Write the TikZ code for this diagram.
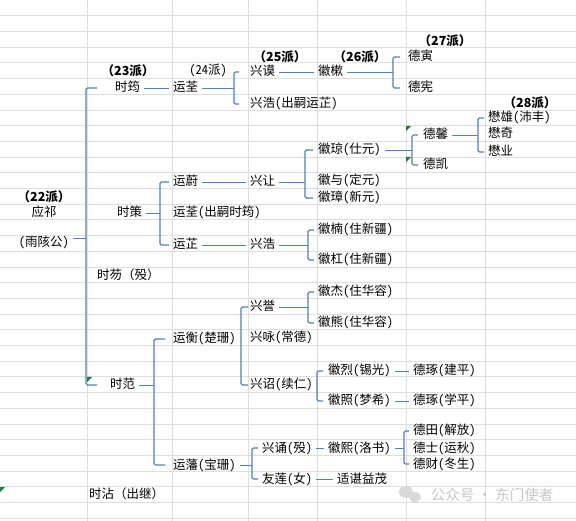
\documentclass[tikz,border=0pt]{standalone}
\usepackage{fontspec}
\setmainfont{Noto Sans CJK SC}
\newfontfamily\halfw{Noto Sans CJK SC}[RawFeature=+hwid]
\usetikzlibrary{positioning,calc}
\definecolor{linkblue}{HTML}{4F81BD}
\definecolor{cellgray}{HTML}{DCDEE0}
\definecolor{markgreen}{HTML}{1E7B3A}

\begin{document}
\begin{tikzpicture}[x=1pt,y=-1pt,
  nm/.style={font=\halfw\fontsize{12.5}{14}\selectfont,anchor=west,inner xsep=4pt,inner ysep=0pt,text height=10pt,text depth=2pt},
  nmfull/.style={nm,font=\fontsize{12.5}{14}\selectfont},
  gen/.style={font=\fontsize{12.5}{14}\selectfont\bfseries,inner sep=1pt},
  brk/.style={draw=linkblue,line width=1.3pt,rounded corners=1.5pt},
  lnk/.style={draw=linkblue,line width=0.8pt},
  cellline/.style={draw=cellgray,line width=0.6pt}
]
\useasboundingbox (0,0) rectangle (576,521);
\fill[white] (0,0) rectangle (576,521);
\foreach \r in {1,...,33} \draw[cellline] (0,{15.7*\r}) -- (576,{15.7*\r});
\foreach \c in {87,172,248,317,406,485} \draw[cellline] (\c,0) -- (\c,521);
\foreach \px/\py in {87/377,406/126,406/157,0/487}
  \fill[markgreen] (\px,\py) -- ++(5,0) -- ++(-5,5) -- cycle;

\node[gen] (h22) at (44,197) {（22派）};
\node[nm,anchor=center] (yingqi) at (44,213) {应祁};
\node[nm,anchor=center] (yugai) at (44,243) {(雨陔公)};

\node[gen] (h23) at (128,71) {（23派）};
\node[nm] (shiyun) at (111,88) {时筠};
\node[nm] (shice) at (113,213) {时策};
\node[nmfull] (shiwu) at (93,276) {时芴（殁）};
\node[nm] (shifan) at (106,385) {时范};
\node[nmfull] (shizhan) at (85,494) {时沾（出继）};

\node[nm,anchor=center] (h24) at (208,71) {(24派)};
\node[nm] (yunquan) at (169,88) {运荃};
\node[nm] (yunwei) at (169,182) {运蔚};
\node[nm] (yunquanb) at (169,213) {运荃(出嗣时筠)};
\node[nm] (yunzhi) at (169,245) {运芷};
\node[nm] (yunheng) at (169,339) {运衡(楚珊)};
\node[nm] (yunfan) at (169,465) {运藩(宝珊)};

\node[gen] (h25) at (280,57) {（25派）};
\node[nm] (xingmo) at (246,72) {兴谟};
\node[nm] (xinghao) at (246,104) {兴浩(出嗣运芷)};
\node[nm] (xingrang) at (246,182) {兴让};
\node[nm] (xinghaob) at (246,245) {兴浩};
\node[nm] (xingyu) at (246,307) {兴誉};
\node[nm] (xingyong) at (246,338) {兴咏(常德)};
\node[nm] (xingzhao) at (246,385) {兴诏(续仁)};
\node[nm] (xingsong) at (258,448) {兴诵(殁)};
\node[nm] (youlian) at (258,479) {友莲(女)};

\node[gen] (h26) at (360,57) {（26派）};
\node[nm] (huisu) at (314,72) {徽樕};
\node[nm] (huiqiong) at (314,150) {徽琼(仕元)};
\node[nm] (huiyu) at (314,181) {徽与(定元)};
\node[nm] (huizhang) at (314,198) {徽璋(新元)};
\node[nm] (huinan) at (314,230) {徽楠(住新疆)};
\node[nm] (huigang) at (314,260) {徽杠(住新疆)};
\node[nm] (huijie) at (314,292) {徽杰(住华容)};
\node[nm] (huixiong) at (314,323) {徽熊(住华容)};
\node[nm] (huilie) at (324,371) {徽烈(锡光)};
\node[nm] (huizhao) at (324,401) {徽照(梦希)};
\node[nm] (huixi) at (324,448) {徽熙(洛书)};
\node[nm] (shichen) at (333,479) {适谌益茂};

\node[gen] (h27) at (445,41) {（27派）};
\node[nm] (deyin) at (404,57) {德寅};
\node[nm] (dexian) at (404,88) {德宪};
\node[nm] (dexin) at (419,135) {德馨};
\node[nm] (dekai) at (419,165) {德凯};
\node[nm] (dezhuoa) at (409,371) {德琢(建平)};
\node[nm] (dezhuob) at (409,401) {德琢(学平)};
\node[nm] (detian) at (409,431) {德田(解放)};
\node[nm] (deshi) at (409,448) {德士(运秋)};
\node[nm] (decai) at (409,464) {德财(冬生)};

\node[gen] (h28) at (530,103) {（28派）};
\node[nm] (maoxiong) at (484,118) {懋雄(沛丰)};
\node[nm] (maoqi) at (484,134) {懋奇};
\node[nm] (maoye) at (484,152) {懋业};

\coordinate (s0) at (86,238);
\coordinate (s1) at (160,213);
\coordinate (s2) at (234,87);
\coordinate (s3) at (393,71);
\coordinate (s4) at (305,180);
\coordinate (s5) at (412,150);
\coordinate (s6) at (478,134);
\coordinate (s7) at (308,245);
\coordinate (s8) at (308,307);
\coordinate (s9) at (241,346);
\coordinate (s10) at (154,385);
\coordinate (s11) at (317,385);
\coordinate (s12) at (252,465);
\coordinate (s13) at (404,448);

\draw[brk] (s0 |- shiyun) ++(11,0) -- (s0 |- shiyun) -- (s0 |- shifan) -- ++(11,0);
\draw[brk] (s1 |- yunwei) ++(9,0) -- (s1 |- yunwei) -- (s1 |- yunzhi) -- ++(9,0);
\draw[brk] (s2 |- xingmo) ++(5,0) -- (s2 |- xingmo) -- (s2 |- xinghao) -- ++(5,0);
\draw[brk] (s3 |- deyin) ++(7,0) -- (s3 |- deyin) -- (s3 |- dexian) -- ++(7,0);
\draw[brk] (s4 |- huiqiong) ++(8,0) -- (s4 |- huiqiong) -- (s4 |- huizhang) -- ++(8,0);
\draw[brk] (s5 |- dexin) ++(6,0) -- (s5 |- dexin) -- (s5 |- dekai) -- ++(6,0);
\draw[brk] (s6 |- maoxiong) ++(6,0) -- (s6 |- maoxiong) -- (s6 |- maoye) -- ++(6,0);
\draw[brk] (s7 |- huinan) ++(6,0) -- (s7 |- huinan) -- (s7 |- huigang) -- ++(6,0);
\draw[brk] (s8 |- huijie) ++(6,0) -- (s8 |- huijie) -- (s8 |- huixiong) -- ++(6,0);
\draw[brk] (s9 |- xingyu) ++(7,0) -- (s9 |- xingyu) -- (s9 |- xingzhao) -- ++(7,0);
\draw[brk] (s10 |- yunheng) ++(11,0) -- (s10 |- yunheng) -- (s10 |- yunfan) -- ++(11,0);
\draw[brk] (s11 |- huilie) ++(6,0) -- (s11 |- huilie) -- (s11 |- huizhao) -- ++(6,0);
\draw[brk] (s12 |- xingsong) ++(6,0) -- (s12 |- xingsong) -- (s12 |- youlian) -- ++(6,0);
\draw[brk] (s13 |- detian) ++(5,0) -- (s13 |- detian) -- (s13 |- decai) -- ++(5,0);

\draw[lnk] (s0 -| yugai.east) -- (s0);
\draw[lnk] (shice.east) -- (shice.east -| s1);
\draw[lnk] (yunquan.east) -- (yunquan.east -| s2);
\draw[lnk] (huisu.east) -- (huisu.east -| s3);
\draw[lnk] (xingrang.east) -- (xingrang.east -| s4);
\draw[lnk] (huiqiong.east) -- (huiqiong.east -| s5);
\draw[lnk] (dexin.east) -- (dexin.east -| s6);
\draw[lnk] (xinghaob.east) -- (xinghaob.east -| s7);
\draw[lnk] (xingyu.east) -- (xingyu.east -| s8);
\draw[lnk] (shifan.east) -- (shifan.east -| s10);
\draw[lnk] (xingzhao.east) -- (xingzhao.east -| s11);
\draw[lnk] (yunfan.east) -- (yunfan.east -| s12);
\draw[lnk] (huixi.east) -- (huixi.east -| s13);

\draw[lnk] (shiyun) -- (yunquan);
\draw[lnk] (yunwei) -- (xingrang);
\draw[lnk] (yunzhi) -- (xinghaob);
\draw[lnk] (xingmo) -- (huisu);
\draw[lnk] (huilie) -- (dezhuoa);
\draw[lnk] (huizhao) -- (dezhuob);
\draw[lnk] (xingsong) -- (huixi);
\draw[lnk] (youlian) -- (shichen);

\fill[gray!30] (406,492) ellipse (7pt and 6pt);
\fill[gray!30] (415,497) ellipse (6pt and 5pt);
\node[font=\fontsize{14.5}{16}\selectfont,text=gray!45] (wm) at (492,495) {公众号 · 东门使者};
\end{tikzpicture}
\end{document}
